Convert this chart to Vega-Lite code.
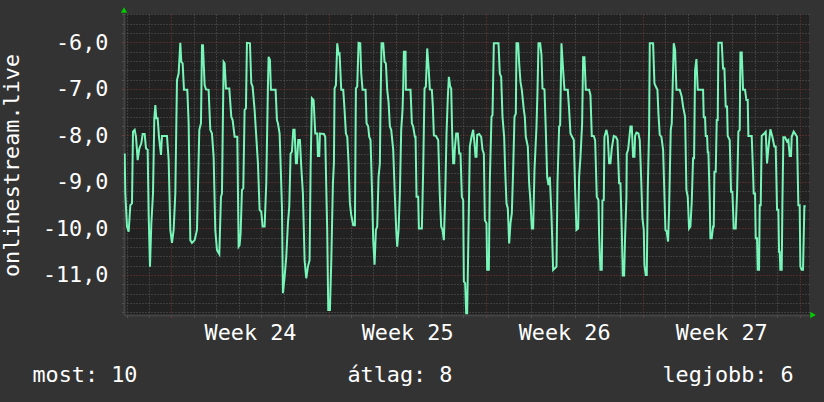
{
"$schema": "https://vega.github.io/schema/vega-lite/v6.json",
"width": 685, "height": 301,
"autosize": {"type": "none"},
"padding": {"left": 124, "top": 14, "right": 15, "bottom": 87},
"background": "#333333",
"config": {"view": {"fill": "#222222", "stroke": null}, "font": "DejaVu Sans Mono"},
"data": {"values": [
{"t":-2.086,"v":-8.39},{"t":-2.057,"v":-9.25},{"t":-1.982,"v":-9.96},{"t":-1.908,"v":-10.07},{"t":-1.834,"v":-9.50},{"t":-1.760,"v":-9.46},{"t":-1.715,"v":-7.92},{"t":-1.641,"v":-7.88},{"t":-1.581,"v":-8.03},{"t":-1.507,"v":-8.53},{"t":-1.433,"v":-8.28},{"t":-1.344,"v":-8.17},{"t":-1.284,"v":-7.97},{"t":-1.195,"v":-7.97},{"t":-1.136,"v":-8.28},{"t":-1.062,"v":-8.31},{"t":-1.017,"v":-9.71},{"t":-0.958,"v":-10.82},{"t":-0.898,"v":-9.90},{"t":-0.824,"v":-9.25},{"t":-0.765,"v":-7.63},{"t":-0.720,"v":-7.35},{"t":-0.676,"v":-7.63},{"t":-0.616,"v":-7.63},{"t":-0.557,"v":-8.03},{"t":-0.468,"v":-8.42},{"t":-0.423,"v":-8.01},{"t":-0.200,"v":-8.01},{"t":-0.126,"v":-8.53},{"t":-0.052,"v":-10.03},{"t":0.022,"v":-10.31},{"t":0.096,"v":-10.03},{"t":0.171,"v":-9.25},{"t":0.245,"v":-6.81},{"t":0.319,"v":-6.67},{"t":0.393,"v":-6.01},{"t":0.438,"v":-6.42},{"t":0.497,"v":-6.45},{"t":0.557,"v":-7.02},{"t":0.705,"v":-7.02},{"t":0.765,"v":-7.74},{"t":0.839,"v":-10.25},{"t":0.913,"v":-10.31},{"t":1.032,"v":-10.25},{"t":1.136,"v":-10.03},{"t":1.240,"v":-7.88},{"t":1.314,"v":-7.74},{"t":1.359,"v":-6.06},{"t":1.403,"v":-6.06},{"t":1.477,"v":-6.92},{"t":1.537,"v":-7.01},{"t":1.655,"v":-7.02},{"t":1.730,"v":-7.88},{"t":1.804,"v":-7.96},{"t":1.878,"v":-8.46},{"t":1.952,"v":-10.03},{"t":2.027,"v":-10.46},{"t":2.131,"v":-10.55},{"t":2.205,"v":-9.32},{"t":2.249,"v":-9.25},{"t":2.324,"v":-6.42},{"t":2.368,"v":-6.45},{"t":2.428,"v":-6.99},{"t":2.576,"v":-6.99},{"t":2.665,"v":-7.60},{"t":2.725,"v":-7.67},{"t":2.814,"v":-8.03},{"t":2.933,"v":-8.03},{"t":2.992,"v":-10.39},
{"t":3.036,"v":-10.36},{"t":3.081,"v":-10.10},{"t":3.140,"v":-9.17},{"t":3.200,"v":-9.14},{"t":3.259,"v":-7.45},{"t":3.318,"v":-7.42},{"t":3.363,"v":-6.01},{"t":3.497,"v":-6.02},{"t":3.556,"v":-6.88},{"t":3.615,"v":-6.95},{"t":3.704,"v":-7.45},{"t":3.779,"v":-8.03},{"t":3.853,"v":-8.60},{"t":3.927,"v":-9.60},{"t":4.001,"v":-9.64},{"t":4.061,"v":-9.96},{"t":4.150,"v":-9.96},{"t":4.224,"v":-9.03},{"t":4.298,"v":-6.95},{"t":4.328,"v":-6.31},{"t":4.387,"v":-6.38},{"t":4.432,"v":-7.02},{"t":4.640,"v":-7.02},{"t":4.699,"v":-7.67},{"t":4.744,"v":-7.74},{"t":4.818,"v":-7.96},{"t":4.863,"v":-8.60},{"t":4.922,"v":-9.53},{"t":4.966,"v":-11.39},{"t":5.041,"v":-11.04},{"t":5.115,"v":-10.61},{"t":5.189,"v":-9.89},{"t":5.249,"v":-9.53},{"t":5.308,"v":-8.39},{"t":5.367,"v":-8.35},{"t":5.427,"v":-7.88},{"t":5.486,"v":-7.88},{"t":5.545,"v":-8.60},{"t":5.590,"v":-8.60},{"t":5.649,"v":-8.10},{"t":5.724,"v":-8.10},{"t":5.783,"v":-8.67},{"t":5.857,"v":-9.25},{"t":5.932,"v":-10.68},{"t":6.006,"v":-11.07},{"t":6.080,"v":-10.82},{"t":6.154,"v":-10.68},{"t":6.199,"v":-8.74},{"t":6.258,"v":-7.20},{"t":6.333,"v":-7.24},{"t":6.407,"v":-7.96},{"t":6.496,"v":-7.96},{"t":6.526,"v":-8.44},{"t":6.585,"v":-8.44},{"t":6.615,"v":-7.96},{"t":6.793,"v":-7.97},{"t":6.852,"v":-8.03},{"t":6.897,"v":-9.10},{"t":6.941,"v":-10.07},{"t":6.986,"v":-11.75},{"t":7.060,"v":-11.75},{"t":7.119,"v":-10.75},{"t":7.194,"v":-9.03},{"t":7.238,"v":-8.60},{"t":7.268,"v":-6.99},{"t":7.327,"v":-6.92},{"t":7.387,"v":-6.02},{"t":7.446,"v":-6.25},{"t":7.491,"v":-6.24},{"t":7.565,"v":-7.02},{"t":7.654,"v":-7.02},{"t":7.713,"v":-7.45},{"t":7.773,"v":-7.96},{"t":7.833,"v":-8.03},{"t":7.892,"v":-8.60},{"t":7.951,"v":-9.46},{"t":8.010,"v":-9.71},{"t":8.099,"v":-9.93},
{"t":8.174,"v":-9.93},{"t":8.218,"v":-6.99},{"t":8.277,"v":-6.95},{"t":8.337,"v":-6.01},{"t":8.411,"v":-6.02},{"t":8.456,"v":-6.67},{"t":8.515,"v":-7.02},{"t":8.649,"v":-7.02},{"t":8.693,"v":-7.74},{"t":8.767,"v":-7.81},{"t":8.812,"v":-8.03},{"t":8.871,"v":-8.10},{"t":8.946,"v":-9.35},{"t":8.990,"v":-10.25},{"t":9.050,"v":-10.78},{"t":9.109,"v":-10.03},{"t":9.168,"v":-9.96},{"t":9.228,"v":-8.89},{"t":9.287,"v":-8.60},{"t":9.317,"v":-7.31},{"t":9.361,"v":-6.02},{"t":9.436,"v":-6.02},{"t":9.495,"v":-6.42},{"t":9.554,"v":-6.45},{"t":9.614,"v":-7.02},{"t":9.673,"v":-7.28},{"t":9.733,"v":-7.81},{"t":9.792,"v":-7.88},{"t":9.881,"v":-8.31},{"t":9.955,"v":-9.32},{"t":10.015,"v":-10.03},{"t":10.059,"v":-10.39},{"t":10.119,"v":-10.03},{"t":10.178,"v":-9.25},{"t":10.237,"v":-7.88},{"t":10.297,"v":-7.45},{"t":10.327,"v":-6.95},{"t":10.356,"v":-6.20},{"t":10.430,"v":-6.20},{"t":10.445,"v":-7.02},{"t":10.653,"v":-7.02},{"t":10.713,"v":-7.74},{"t":10.772,"v":-7.81},{"t":10.846,"v":-8.03},{"t":10.876,"v":-8.03},{"t":10.920,"v":-9.32},{"t":10.995,"v":-9.32},{"t":11.024,"v":-10.00},{"t":11.158,"v":-10.00},{"t":11.217,"v":-8.74},{"t":11.277,"v":-6.99},{"t":11.336,"v":-6.95},{"t":11.396,"v":-6.13},{"t":11.455,"v":-6.52},{"t":11.514,"v":-7.01},{"t":11.603,"v":-7.02},{"t":11.648,"v":-7.38},{"t":11.693,"v":-8.00},{"t":11.782,"v":-8.01},{"t":11.886,"v":-8.10},{"t":11.960,"v":-9.32},{"t":12.019,"v":-9.96},{"t":12.079,"v":-10.03},{"t":12.138,"v":-10.25},{"t":12.197,"v":-9.32},{"t":12.257,"v":-7.96},{"t":12.316,"v":-7.17},{"t":12.361,"v":-6.74},{"t":12.420,"v":-6.95},{"t":12.465,"v":-6.99},{"t":12.509,"v":-7.96},{"t":12.554,"v":-8.60},{"t":12.598,"v":-8.60},{"t":12.628,"v":-8.28},{"t":12.687,"v":-7.96},{"t":12.761,"v":-7.96},{"t":12.821,"v":-8.39},{"t":12.880,"v":-8.39},{"t":12.940,"v":-9.32},{"t":12.999,"v":-9.39},{"t":13.029,"v":-11.14},{"t":13.088,"v":-11.18},{"t":13.133,"v":-11.82},{"t":13.177,"v":-11.82},{"t":13.237,"v":-10.03},{"t":13.296,"v":-8.24},
{"t":13.370,"v":-8.03},{"t":13.444,"v":-7.88},{"t":13.504,"v":-8.17},{"t":13.548,"v":-8.46},{"t":13.593,"v":-8.46},{"t":13.623,"v":-7.99},{"t":13.712,"v":-7.97},{"t":13.801,"v":-8.03},{"t":13.860,"v":-8.31},{"t":13.920,"v":-8.39},{"t":13.964,"v":-9.82},{"t":14.038,"v":-9.89},{"t":14.068,"v":-10.89},{"t":14.142,"v":-10.89},{"t":14.187,"v":-8.96},{"t":14.261,"v":-7.60},{"t":14.306,"v":-7.56},{"t":14.365,"v":-6.02},{"t":14.573,"v":-6.02},{"t":14.632,"v":-6.67},{"t":14.692,"v":-6.74},{"t":14.751,"v":-7.60},{"t":14.825,"v":-8.03},{"t":14.870,"v":-8.74},{"t":14.929,"v":-9.46},{"t":14.989,"v":-9.57},{"t":15.048,"v":-10.32},{"t":15.107,"v":-9.89},{"t":15.167,"v":-9.67},{"t":15.226,"v":-8.74},{"t":15.286,"v":-7.60},{"t":15.345,"v":-7.53},{"t":15.375,"v":-6.02},{"t":15.449,"v":-6.02},{"t":15.494,"v":-6.45},{"t":15.553,"v":-6.85},{"t":15.612,"v":-7.02},{"t":15.701,"v":-7.45},{"t":15.746,"v":-7.60},{"t":15.790,"v":-8.03},{"t":15.880,"v":-8.24},{"t":15.939,"v":-9.03},{"t":15.998,"v":-9.42},{"t":16.058,"v":-10.00},{"t":16.117,"v":-10.00},{"t":16.177,"v":-8.74},{"t":16.266,"v":-7.81},{"t":16.310,"v":-7.06},{"t":16.355,"v":-6.02},{"t":16.429,"v":-6.02},{"t":16.488,"v":-6.27},{"t":16.533,"v":-6.99},{"t":16.622,"v":-7.01},{"t":16.681,"v":-7.88},{"t":16.741,"v":-8.89},{"t":16.800,"v":-9.07},{"t":16.860,"v":-8.89},{"t":16.934,"v":-9.71},{"t":17.008,"v":-10.89},{"t":17.157,"v":-10.82},{"t":17.201,"v":-9.03},{"t":17.275,"v":-7.81},{"t":17.320,"v":-7.78},{"t":17.379,"v":-6.02},{"t":17.454,"v":-6.60},{"t":17.513,"v":-7.02},{"t":17.661,"v":-7.02},{"t":17.721,"v":-7.45},{"t":17.780,"v":-7.96},{"t":17.854,"v":-8.03},{"t":17.929,"v":-8.10},{"t":17.988,"v":-9.17},{"t":18.047,"v":-10.03},{"t":18.122,"v":-10.00},{"t":18.166,"v":-8.89},{"t":18.226,"v":-8.46},{"t":18.300,"v":-7.74},{"t":18.345,"v":-6.32},{"t":18.404,"v":-6.32},{"t":18.463,"v":-7.02},
{"t":18.611,"v":-7.02},{"t":18.671,"v":-7.13},{"t":18.730,"v":-8.01},{"t":18.819,"v":-8.01},{"t":18.879,"v":-8.10},{"t":18.953,"v":-9.32},{"t":19.027,"v":-9.39},{"t":19.057,"v":-10.14},{"t":19.116,"v":-10.89},{"t":19.176,"v":-10.89},{"t":19.205,"v":-9.40},{"t":19.265,"v":-9.39},{"t":19.294,"v":-8.03},{"t":19.384,"v":-7.88},{"t":19.443,"v":-8.03},{"t":19.502,"v":-8.60},{"t":19.562,"v":-8.60},{"t":19.621,"v":-8.28},{"t":19.710,"v":-8.01},{"t":19.799,"v":-8.03},{"t":19.874,"v":-8.10},{"t":19.948,"v":-9.03},{"t":20.007,"v":-9.03},{"t":20.067,"v":-10.03},{"t":20.111,"v":-11.01},{"t":20.171,"v":-11.01},{"t":20.215,"v":-10.18},{"t":20.274,"v":-9.32},{"t":20.289,"v":-8.39},{"t":20.349,"v":-8.31},{"t":20.393,"v":-8.10},{"t":20.453,"v":-7.81},{"t":20.512,"v":-7.81},{"t":20.571,"v":-8.46},{"t":20.631,"v":-8.46},{"t":20.660,"v":-8.01},{"t":20.720,"v":-7.94},{"t":20.809,"v":-7.96},{"t":20.868,"v":-8.10},{"t":20.928,"v":-8.89},{"t":20.987,"v":-9.78},{"t":21.047,"v":-10.03},{"t":21.076,"v":-10.79},{"t":21.136,"v":-11.00},{"t":21.180,"v":-11.00},{"t":21.225,"v":-9.17},{"t":21.284,"v":-7.88},{"t":21.314,"v":-6.02},{"t":21.462,"v":-6.02},{"t":21.522,"v":-6.88},{"t":21.581,"v":-6.95},{"t":21.655,"v":-7.02},{"t":21.700,"v":-7.53},{"t":21.759,"v":-7.99},{"t":21.833,"v":-8.03},{"t":21.908,"v":-8.31},{"t":21.952,"v":-9.03},{"t":22.012,"v":-10.03},{"t":22.071,"v":-10.07},{"t":22.130,"v":-10.28},{"t":22.175,"v":-9.60},{"t":22.249,"v":-7.88},{"t":22.294,"v":-7.74},{"t":22.338,"v":-6.88},{"t":22.383,"v":-6.02},{"t":22.442,"v":-6.16},{"t":22.502,"v":-7.02},{"t":22.650,"v":-7.02},{"t":22.739,"v":-7.17},{"t":22.799,"v":-7.38},{"t":22.888,"v":-7.60},{"t":22.947,"v":-9.17},{"t":23.007,"v":-9.32},{"t":23.066,"v":-10.00},{"t":23.125,"v":-9.96},{"t":23.185,"v":-9.42},{"t":23.244,"v":-8.49},{"t":23.289,"v":-8.49},{"t":23.333,"v":-6.60},{"t":23.393,"v":-6.36},{"t":23.452,"v":-7.02},{"t":23.690,"v":-7.02},
{"t":23.719,"v":-7.61},{"t":23.778,"v":-7.61},{"t":23.808,"v":-8.01},{"t":23.868,"v":-8.01},{"t":23.897,"v":-8.36},{"t":23.927,"v":-8.36},{"t":23.986,"v":-9.39},{"t":24.016,"v":-10.21},{"t":24.075,"v":-10.21},{"t":24.135,"v":-9.96},{"t":24.165,"v":-9.96},{"t":24.194,"v":-8.78},{"t":24.254,"v":-8.78},{"t":24.298,"v":-7.67},{"t":24.343,"v":-7.67},{"t":24.372,"v":-6.01},{"t":24.521,"v":-6.01},{"t":24.580,"v":-6.56},{"t":24.640,"v":-6.56},{"t":24.699,"v":-7.38},{"t":24.758,"v":-7.38},{"t":24.788,"v":-8.01},{"t":24.877,"v":-8.10},{"t":24.937,"v":-9.21},{"t":24.996,"v":-9.21},{"t":25.055,"v":-10.00},{"t":25.144,"v":-10.00},{"t":25.204,"v":-9.25},{"t":25.263,"v":-7.92},{"t":25.323,"v":-7.88},{"t":25.352,"v":-6.22},{"t":25.412,"v":-6.22},{"t":25.471,"v":-7.02},{"t":25.560,"v":-7.02},{"t":25.620,"v":-7.24},{"t":25.679,"v":-7.24},{"t":25.709,"v":-8.01},{"t":25.857,"v":-8.01},{"t":25.917,"v":-8.80},{"t":25.946,"v":-9.25},{"t":26.006,"v":-9.25},{"t":26.035,"v":-10.21},{"t":26.095,"v":-10.21},{"t":26.124,"v":-10.89},{"t":26.184,"v":-10.89},{"t":26.214,"v":-9.50},{"t":26.258,"v":-9.50},{"t":26.303,"v":-8.01},{"t":26.392,"v":-7.97},{"t":26.481,"v":-7.92},{"t":26.540,"v":-8.60},{"t":26.600,"v":-8.28},{"t":26.689,"v":-7.87},{"t":26.778,"v":-8.03},{"t":26.867,"v":-8.24},{"t":26.926,"v":-8.24},{"t":26.986,"v":-9.60},{"t":27.045,"v":-9.60},{"t":27.075,"v":-10.50},{"t":27.104,"v":-10.50},{"t":27.134,"v":-10.89},{"t":27.194,"v":-10.89},{"t":27.223,"v":-9.53},{"t":27.268,"v":-8.04},{"t":27.342,"v":-8.04},{"t":27.431,"v":-8.13},{"t":27.490,"v":-8.10},{"t":27.550,"v":-8.44},{"t":27.609,"v":-8.44},{"t":27.639,"v":-8.03},{"t":27.728,"v":-7.92},{"t":27.787,"v":-7.96},{"t":27.876,"v":-8.03},{"t":27.936,"v":-9.50},{"t":27.995,"v":-9.50},{"t":28.025,"v":-10.82},{"t":28.084,"v":-10.89},{"t":28.144,"v":-10.89},{"t":28.203,"v":-9.52},{"t":28.263,"v":-9.52}
]},
"layer": [
{"mark": {"type": "line", "color": "#78f5b8", "strokeWidth": 2, "clip": true},
 "encoding": {
  "x": {"field": "t", "type": "quantitative",
   "scale": {"domain": [-2.116, 28.41], "nice": false, "zero": false},
   "axis": {
    "values": [-2,-1,0,1,2,3,4,5,6,7,8,9,10,11,12,13,14,15,16,17,18,19,20,21,22,23,24,25,26,27,28,3.5,10.5,17.5,24.5],
    "tickCount": 500,
    "grid": true,
    "gridColor": {"condition": {"test": "datum.value % 7 === 0", "value": "#7c3434"}, "value": "#5a5a5a"},
    "gridOpacity": {"condition": {"test": "datum.value % 1 !== 0", "value": 0}, "value": 1},
    "gridDash": [1, 2],
    "tickSize": 2,
    "tickColor": {"condition": {"test": "datum.value % 7 === 0", "value": "#a04040"}, "value": "#666666"},
    "tickOpacity": {"condition": {"test": "datum.value % 1 !== 0", "value": 0}, "value": 1},
    "labelExpr": "datum.value % 1 !== 0 ? 'Week ' + (24 + floor(datum.value / 7)) : ''",
    "labelOverlap": false, "labelFlush": false,
    "labelFont": "DejaVu Sans Mono", "labelFontSize": 21.8, "labelColor": "#ffffff", "labelPadding": 5,
    "domainColor": "#444444", "domainWidth": 2,
    "title": "most: 10\u00a0\u00a0\u00a0\u00a0\u00a0\u00a0\u00a0\u00a0\u00a0\u00a0\u00a0\u00a0\u00a0\u00a0\u00a0\u00a0átlag: 8\u00a0\u00a0\u00a0\u00a0\u00a0\u00a0\u00a0\u00a0\u00a0\u00a0\u00a0\u00a0\u00a0\u00a0\u00a0\u00a0legjobb: 6",
    "titleX": -92, "titleY": 66.5, "titleAlign": "left", "titleBaseline": "alphabetic",
    "titleFont": "DejaVu Sans Mono", "titleFontSize": 21.8, "titleFontWeight": "normal", "titleColor": "#ffffff"
   }},
  "y": {"field": "v", "type": "quantitative",
   "scale": {"domain": [-11.86, -5.39], "nice": false, "zero": false},
   "axis": {
    "values": [-11.8,-11.6,-11.4,-11.2,-11.0,-10.8,-10.6,-10.4,-10.2,-10.0,-9.8,-9.6,-9.4,-9.2,-9.0,-8.8,-8.6,-8.4,-8.2,-8.0,-7.8,-7.6,-7.4,-7.2,-7.0,-6.8,-6.6,-6.4,-6.2,-6.0,-5.8,-5.6,-5.4],
    "tickCount": 500,
    "grid": true,
    "gridColor": {"condition": {"test": "abs(datum.value - round(datum.value)) < 0.01", "value": "#7c3434"}, "value": "#5a5a5a"},
    "gridDash": [1, 2],
    "tickSize": 2,
    "tickColor": {"condition": {"test": "abs(datum.value - round(datum.value)) < 0.01", "value": "#a04040"}, "value": "#666666"},
    "labelExpr": "abs(datum.value - round(datum.value)) < 0.01 ? '-' + replace(format(abs(datum.value), '.1f'), '.', ',') : ''",
    "labelOverlap": false, "labelFlush": false,
    "labelFont": "DejaVu Sans Mono", "labelFontSize": 21.8, "labelColor": "#ffffff", "labelPadding": 14,
    "domainColor": "#444444", "domainWidth": 2,
    "title": "onlinestream.live",
    "titleX": -106, "titleY": 151, "titleAngle": -90, "titleAlign": "center", "titleBaseline": "alphabetic",
    "titleFont": "DejaVu Sans Mono", "titleFontSize": 21.8, "titleFontWeight": "normal", "titleColor": "#ffffff"
   }}
 }},
{"data": {"values": [{}]},
 "mark": {"type": "point", "shape": "triangle-up", "filled": true, "color": "#00cc00", "size": 40, "opacity": 1, "yOffset": -4},
 "encoding": {"x": {"datum": -2.116, "type": "quantitative"}, "y": {"datum": -5.39, "type": "quantitative"}}},
{"data": {"values": [{}]},
 "mark": {"type": "point", "shape": "triangle-right", "filled": true, "color": "#00cc00", "size": 40, "opacity": 1, "xOffset": 4},
 "encoding": {"x": {"datum": 28.41, "type": "quantitative"}, "y": {"datum": -11.86, "type": "quantitative"}}}
]
}
